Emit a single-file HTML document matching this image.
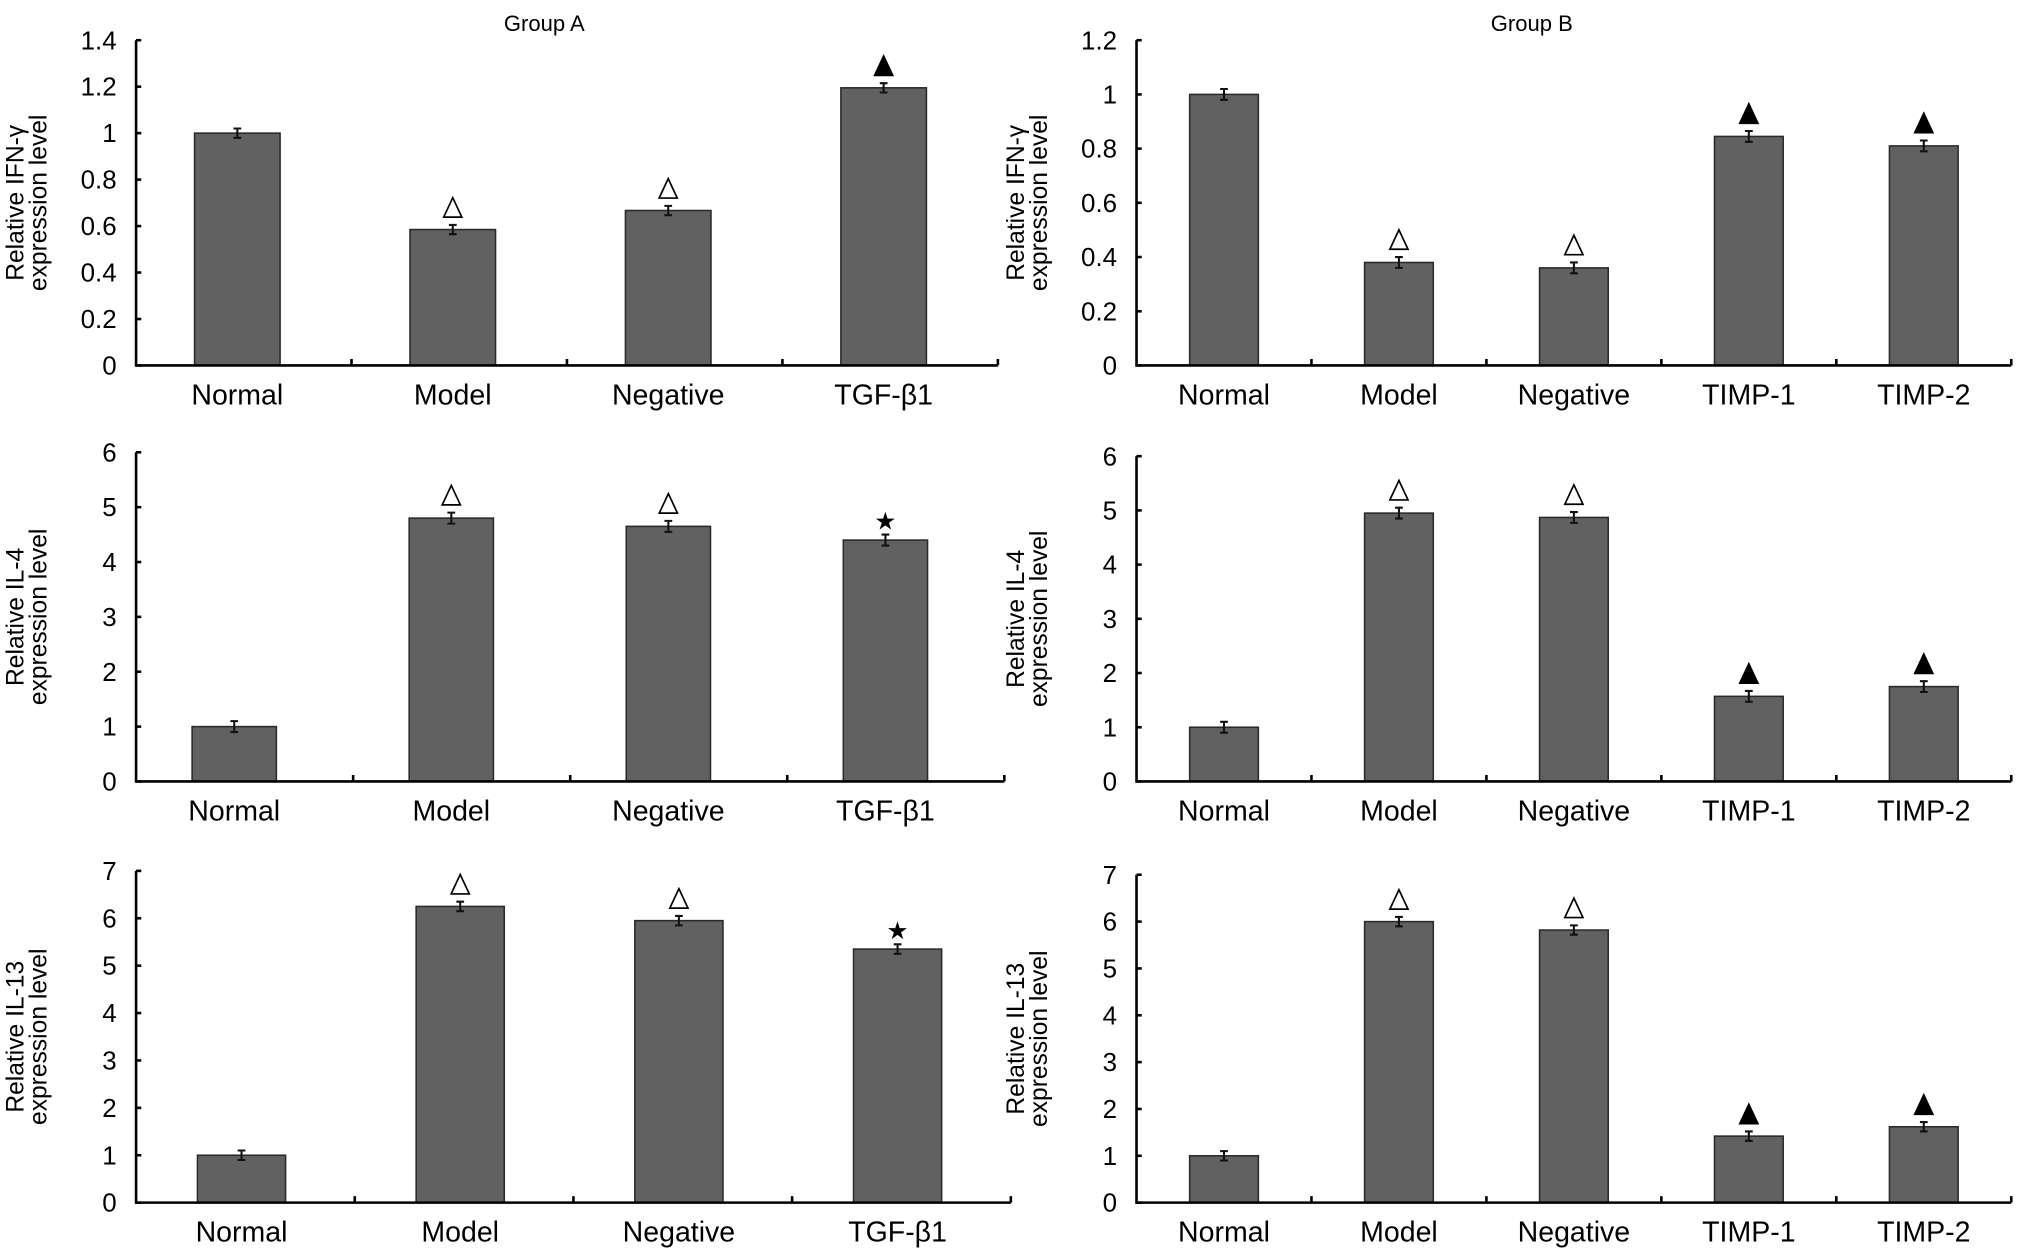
<!DOCTYPE html>
<html><head><meta charset="utf-8"><style>
html,body{margin:0;padding:0;background:#fff;}
svg{display:block;font-family:"Liberation Sans",Arial,sans-serif;}
</style></head><body>
<svg id="fig" width="2032" height="1258" viewBox="0 0 1568 970.7" xmlns="http://www.w3.org/2000/svg">
<rect width="1568" height="971" fill="#fff"/>
<text x="420" y="24" font-size="17" text-anchor="middle">Group A</text>
<text x="1182" y="24" font-size="17" text-anchor="middle">Group B</text>
</svg>
<script>
const catsA = ["Normal","Model","Negative","TGF-β1"];
const catsB = ["Normal","Model","Negative","TIMP-1","TIMP-2"];
const ifnA = [1.0,0.585,0.667,1.195];
const ifnB = [1.0,0.38,0.36,0.845,0.81];
const il4A = [1.0,4.8,4.65,4.4];
const il4B = [1.0,4.95,4.87,1.57,1.75];
const il13A = [1.0,6.25,5.95,5.35];
const il13B = [1.0,6.0,5.82,1.42,1.62];
const errIfnA = [0.02,0.02,0.02,0.02];
const errIfnB = [0.02,0.02,0.02,0.02,0.02];
const errIl4A = [0.1,0.1,0.1,0.1];
const errIl4B = [0.1,0.1,0.1,0.1,0.1];
const errIl13A = [0.1,0.1,0.1,0.1];
const errIl13B = [0.1,0.1,0.1,0.1,0.1];
const marksA1 = ["","open","open","filled"];
const marksB = ["","open","open","filled","filled"];
const marksA23 = ["","open","open","star"];
const ticksIfnA = ["0","0.2","0.4","0.6","0.8","1","1.2","1.4"];
const ticksIfnB = ["0","0.2","0.4","0.6","0.8","1","1.2"];
const ticksIl4 = ["0","1","2","3","4","5","6"];
const ticksIl13 = ["0","1","2","3","4","5","6","7"];

const svg = document.getElementById('fig');
const NS = "http://www.w3.org/2000/svg";
function mk(tag, attrs, parent){const e=document.createElementNS(NS,tag);for(const k in attrs)e.setAttribute(k,attrs[k]);(parent||svg).appendChild(e);return e;}

function panel(p){
  const g = mk('g',{});
  
  
  const tickVals = p.ticks.map(Number);
  const ymax = tickVals[tickVals.length-1];
  const y = v => p.y0 - (v/ymax)*(p.y0-p.yTop);
  const n = p.cats.length;
  const cw = (p.x1-p.x0)/n;
  const x = i => p.x0 + cw*(i+0.5) + (p.off||0);
  p.vals.forEach((v,i)=>{
    const r = mk('rect',{x:x(i)-p.bw/2,y:y(v),width:p.bw,height:p.y0-y(v),fill:'#616161',stroke:'#2a2a2a','stroke-width':1.2},g);
    
    
    const e = p.err[i];
    const eb = mk('path',{d:`M${x(i)},${y(v+e)}V${y(v-e)}M${x(i)-3},${y(v+e)}H${x(i)+3}M${x(i)-3},${y(v-e)}H${x(i)+3}`,stroke:'#111','stroke-width':1.6,fill:'none'},g);
    
    
    const m = p.marks[i];
    const my = y(v+e) - 6;
    let mark = null;
    if(m==='open'||m==='filled'){
      mark = mk('path',{d:`M${x(i)},${my-15}L${x(i)+7},${my}L${x(i)-7},${my}Z`,fill:m==='filled'?'#000':'#fff',stroke:'#000','stroke-width':1.3},g);
    } else if(m==='star'){
      mark = mk('text',{x:x(i),y:my+2,'font-size':19,'text-anchor':'middle'},g);
      mark.textContent='★';
    }
    if(mark){
      
      
    }
    const t = mk('text',{x:x(i),y:p.y0+30,'font-size':22,'text-anchor':'middle'},g);
    t.textContent = p.cats[i];
    
    
  });
  const ax = mk('path',{d:`M${p.x0},${p.yTop}V${p.y0}H${p.x1}`,stroke:'#000','stroke-width':2,fill:'none'},g);
  
  
  for(let i=1;i<=n;i++){
    mk('path',{d:`M${p.x0+cw*i},${p.y0}V${p.y0-5}`,stroke:'#000','stroke-width':2},g);
  }
  p.ticks.forEach(tl=>{
    const v = Number(tl);
    mk('path',{d:`M${p.x0},${y(v)}H${p.x0+4}`,stroke:'#000','stroke-width':2},g);
    const t = mk('text',{x:p.x0-15,y:y(v)+7,'font-size':20,'text-anchor':'end'},g);
    t.textContent = tl;
    
    
  });
  const cy = (p.y0+p.yTop)/2;
  const yt = mk('text',{transform:`translate(${p.x0-87},${cy}) rotate(-90)`,'font-size':19,'text-anchor':'middle'},g);
  
  
  const s1 = mk('tspan',{x:0,dy:0},yt); s1.textContent = 'Relative '+p.label;
  const s2 = mk('tspan',{x:0,dy:18},yt); s2.textContent = 'expression level';
}

panel({name:'panel-a-ifn',cats:catsA,vals:ifnA,err:errIfnA,marks:marksA1,ticks:ticksIfnA,x0:105,x1:770,y0:282,yTop:31,bw:66,off:-5,label:'IFN-γ'});
panel({name:'panel-b-ifn',cats:catsB,vals:ifnB,err:errIfnB,marks:marksB,ticks:ticksIfnB,x0:877,x1:1552,y0:282,yTop:31,bw:53,label:'IFN-γ'});
panel({name:'panel-a-il4',cats:catsA,vals:il4A,err:errIl4A,marks:marksA23,ticks:ticksIl4,x0:105,x1:775,y0:603,yTop:349,bw:65,off:-8,label:'IL-4'});
panel({name:'panel-b-il4',cats:catsB,vals:il4B,err:errIl4B,marks:marksB,ticks:ticksIl4,x0:877,x1:1552,y0:603,yTop:352,bw:53,label:'IL-4'});
panel({name:'panel-a-il13',cats:catsA,vals:il13A,err:errIl13A,marks:marksA23,ticks:ticksIl13,x0:105,x1:780,y0:928,yTop:672,bw:68,off:-3,label:'IL-13'});
panel({name:'panel-b-il13',cats:catsB,vals:il13B,err:errIl13B,marks:marksB,ticks:ticksIl13,x0:877,x1:1552,y0:928,yTop:675,bw:53,label:'IL-13'});
</script>
</body></html>
